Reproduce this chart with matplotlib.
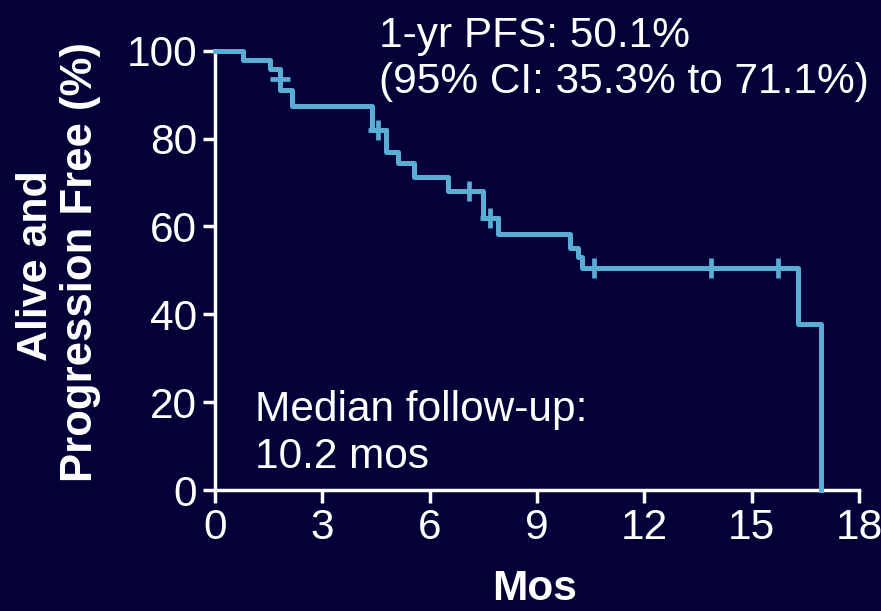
import matplotlib
matplotlib.use("Agg")
import matplotlib.pyplot as plt

# ---- data ----
event_times = [0, 0.78, 1.54, 1.82, 2.14, 4.38, 4.78, 5.12, 5.57, 6.50, 7.48, 7.92, 9.92, 10.15, 10.25, 16.29, 16.93]
surv_levels = [100, 97.9, 95.8, 91.1, 87.4, 82.0, 76.9, 74.4, 71.3, 68.1, 62.0, 58.3, 55.0, 53.1, 50.6, 37.9, 0]
censor_times = [1.82, 4.56, 7.10, 7.70, 10.6, 13.87, 15.74]
censor_levels = [93.5, 82.0, 68.1, 62.0, 50.6, 50.6, 50.6]
x_ticks = [0, 3, 6, 9, 12, 15, 18]
y_ticks = [0, 20, 40, 60, 80, 100]

W, H = 881, 611
BG = "#030137"
LINE = "#5aaed5"
plt.rcParams['font.family'] = ['Liberation Sans', 'DejaVu Sans']

fig = plt.figure(figsize=(W/100, H/100), dpi=100, facecolor=BG)
ax = fig.add_axes([215/W, (H-490)/H, (859-215)/W, (490-50.7)/H])
ax.set_facecolor(BG)

ax.step(event_times, surv_levels, where='post', color=LINE, lw=3.6, clip_on=False, zorder=3)
ax.plot(censor_times, censor_levels, linestyle='none', marker='+', color=LINE,
        markersize=14, markeredgewidth=3.4, clip_on=False, zorder=4)

ax.set_xlim(0, 18)
ax.set_ylim(0, 100)
ax.set_xticks(x_ticks)
ax.set_yticks(y_ticks)
for s in ['top', 'right']:
    ax.spines[s].set_visible(False)
for s in ['left', 'bottom']:
    ax.spines[s].set_color('white')
    ax.spines[s].set_linewidth(2.5)
ax.tick_params(colors='white', labelsize=30.5, length=9, width=2.5, direction='out', pad=4)


def fx(px):
    return px / W


def fy(py):
    return 1 - py / H


# axis labels
fig.text(fx(535), fy(600), 'Mos', color='white', fontsize=30.5, fontweight='bold',
         ha='center', va='baseline')
fig.text(fx(47), fy(266), 'Alive and', color='white', fontsize=31, fontweight='bold',
         ha='center', va='baseline', rotation=90, rotation_mode='anchor')
fig.text(fx(92), fy(262), 'Progression Free (%)', color='white', fontsize=31.5, fontweight='bold',
         ha='center', va='baseline', rotation=90, rotation_mode='anchor')

# annotations
fig.text(fx(379), fy(46.5), '1-yr PFS: 50.1%', color='white', fontsize=30.5,
         ha='left', va='baseline')
fig.text(fx(379), fy(93.3), '(95% CI: 35.3% to 71.1%)', color='white', fontsize=30.5,
         ha='left', va='baseline')
fig.text(fx(255), fy(421), 'Median follow-up:', color='white', fontsize=30.5,
         ha='left', va='baseline')
fig.text(fx(255), fy(468.5), '10.2 mos', color='white', fontsize=30.5,
         ha='left', va='baseline')

fig.savefig('out.png', dpi=100, facecolor=BG)
